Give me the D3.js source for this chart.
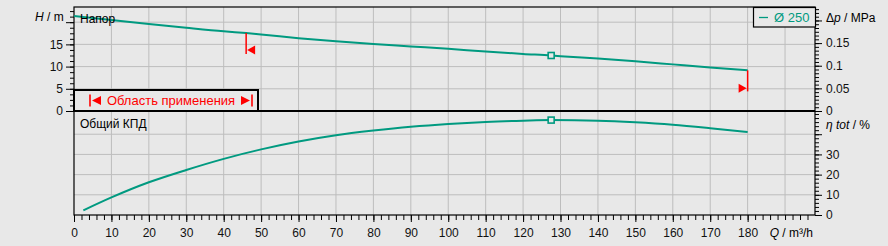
<!DOCTYPE html>
<html>
<head>
<meta charset="utf-8">
<script src="https://cdn.jsdelivr.net/npm/d3@7"></script>
<style>
  body { margin: 0; background: #e8e8e8; }
  svg { display: block; font-family: "Liberation Sans", Arial, sans-serif; }
  .grid line { stroke: #bdbdbd; stroke-width: 1; }
  .tick text { font-size: 12px; fill: #111; }
</style>
</head>
<body>
<div id="chart"></div>
<script>
// head curve (Q m3/h, H m)
let headQ = [0, 10, 20, 30, 40, 46, 50, 60, 70, 80, 90, 100, 110, 120, 127.5, 130, 140, 150, 160, 170, 180]
let headH = [21.4, 20.5, 19.6, 18.75, 17.95, 17.55, 17.25, 16.4, 15.7, 15.1, 14.55, 14.0, 13.4, 12.85, 12.5, 12.35, 11.8, 11.2, 10.5, 9.8, 9.15]
// total efficiency curve (Q m3/h, eta %)
let effQ = [2.5, 10, 20, 30, 40, 50, 60, 70, 80, 90, 100, 110, 120, 127.5, 140, 150, 160, 170, 180]
let effE = [2.3, 8.7, 16.2, 22.3, 27.8, 32.5, 36.4, 39.5, 41.8, 43.7, 45.1, 46.1, 46.7, 47.0, 46.7, 45.9, 44.7, 43.0, 41.1]
let dutyQ = 127.5
let rangeLimits = [46, 180]
let xTicks = [0, 10, 20, 30, 40, 50, 60, 70, 80, 90, 100, 110, 120, 130, 140, 150, 160, 170, 180]
let hTicks = [0, 5, 10, 15]
let pTicks = [0, 0.05, 0.1, 0.15]
let eTicks = [0, 10, 20, 30]
let legendLabel = "Ø 250"

let width = 888, height = 246
let teal = "#009a80"

let svg = d3.select("#chart").append("svg")
    .attr("width", width)
    .attr("height", height)

let x = d3.scaleLinear().domain([0, 198]).range([74, 815])
let yH = d3.scaleLinear().domain([0, 23.42]).range([111, 7])
let yP = d3.scaleLinear().domain([0, 23.42 * 0.00981]).range([111, 7])
let yE = d3.scaleLinear().domain([0, 51.5]).range([215, 111])

// grids
let grid = svg.append("g").attr("class", "grid")
grid.selectAll(".vg").data(d3.range(10, 198, 10)).enter().append("line")
    .attr("x1", d => x(d)).attr("x2", d => x(d))
    .attr("y1", 7).attr("y2", 215)
grid.selectAll(".hg").data([5, 10, 15, 20]).enter().append("line")
    .attr("x1", 74).attr("x2", 815)
    .attr("y1", d => yH(d)).attr("y2", d => yH(d))
grid.selectAll(".eg").data([10, 20, 30, 40]).enter().append("line")
    .attr("x1", 74).attr("x2", 815)
    .attr("y1", d => yE(d)).attr("y2", d => yE(d))

// axes
function noDomain(g){ g.select(".domain").remove() }

svg.append("g")
    .attr("transform", "translate(0,215)")
    .call(d3.axisBottom(x).tickValues(d3.range(0, 198, 2)).tickSize(5).tickFormat(""))
    .call(noDomain)
svg.append("g")
    .attr("transform", "translate(0,215)")
    .call(d3.axisBottom(x).tickValues(xTicks).tickSize(7).tickPadding(6).tickFormat(d3.format("d")))
    .call(noDomain)

svg.append("g")
    .attr("transform", "translate(74,0)")
    .call(d3.axisLeft(yH).tickValues(d3.range(0, 23.4, 1.25)).tickSize(4).tickFormat(""))
    .call(noDomain)
svg.append("g")
    .attr("transform", "translate(74,0)")
    .call(d3.axisLeft(yH).tickValues(hTicks.concat([20])).tickSize(8).tickPadding(3).tickFormat(d => d == 20 ? "" : d))
    .call(noDomain)

svg.append("g")
    .attr("transform", "translate(815,0)")
    .call(d3.axisRight(yP).tickValues(d3.range(0, 0.228, 0.05 / 6)).tickSize(4).tickFormat(""))
    .call(noDomain)
svg.append("g")
    .attr("transform", "translate(815,0)")
    .call(d3.axisRight(yP).tickValues(pTicks.concat([0.2])).tickSize(7).tickPadding(4).tickFormat(d => d == 0.2 ? "" : d3.format("~g")(d)))
    .call(noDomain)

svg.append("g")
    .attr("transform", "translate(815,0)")
    .call(d3.axisRight(yE).tickValues(d3.range(0, 51, 2)).tickSize(4).tickFormat(""))
    .call(noDomain)
svg.append("g")
    .attr("transform", "translate(815,0)")
    .call(d3.axisRight(yE).tickValues(eTicks.concat([40])).tickSize(7).tickPadding(4).tickFormat(d => d == 40 ? "" : d))
    .call(noDomain)

// frame
svg.append("rect").attr("x", 74).attr("y", 7).attr("width", 741).attr("height", 208)
    .attr("fill", "none").attr("stroke", "#000").attr("stroke-width", 1.2)
svg.append("line").attr("x1", 74).attr("x2", 815).attr("y1", 111).attr("y2", 111)
    .attr("stroke", "#000").attr("stroke-width", 2)

// axis titles
let t = svg.append("text").attr("x", 35).attr("y", 21).attr("font-size", 12)
t.append("tspan").attr("font-style", "italic").text("H")
t.append("tspan").text(" / m")
let tp = svg.append("text").attr("x", 826).attr("y", 22).attr("font-size", 12)
tp.append("tspan").text("Δ")
tp.append("tspan").attr("font-style", "italic").text("p")
tp.append("tspan").text(" / MPa")
let te = svg.append("text").attr("x", 826).attr("y", 128.5).attr("font-size", 12)
te.append("tspan").attr("font-style", "italic").text("η tot")
te.append("tspan").text(" / %")
let tq = svg.append("text").attr("x", 813).attr("y", 237).attr("font-size", 12).attr("text-anchor", "end")
tq.append("tspan").attr("font-style", "italic").text("Q")
tq.append("tspan").text(" / m³/h")

// curves
let headData = headQ.map((q, i) => ({q: q, v: headH[i]}))
let effData = effQ.map((q, i) => ({q: q, v: effE[i]}))

svg.append("path").datum(headData)
    .attr("d", d3.line().x(d => x(d.q)).y(d => yH(d.v)).curve(d3.curveMonotoneX))
    .attr("fill", "none").attr("stroke", teal).attr("stroke-width", 2)
svg.append("path").datum(effData)
    .attr("d", d3.line().x(d => x(d.q)).y(d => yE(d.v)).curve(d3.curveMonotoneX))
    .attr("fill", "none").attr("stroke", teal).attr("stroke-width", 2)

// duty point markers
let hDuty = headH[headQ.indexOf(dutyQ)]
let eDuty = effE[effQ.indexOf(dutyQ)]
svg.append("rect").attr("x", x(dutyQ) - 3).attr("y", yH(hDuty) - 3).attr("width", 6).attr("height", 6)
    .attr("fill", "#e8e8e8").attr("stroke", teal).attr("stroke-width", 1.6)
svg.append("rect").attr("x", x(dutyQ) - 3).attr("y", yE(eDuty) - 3).attr("width", 6).attr("height", 6)
    .attr("fill", "#e8e8e8").attr("stroke", teal).attr("stroke-width", 1.6)

// application range limits
let hLeft = headH[headQ.indexOf(rangeLimits[0])]
let hRight = headH[headQ.indexOf(rangeLimits[1])]
let xl = x(rangeLimits[0]), xr = x(rangeLimits[1])
svg.append("line").attr("x1", xl).attr("x2", xl).attr("y1", yH(hLeft)).attr("y2", yH(hLeft) + 21)
    .attr("stroke", "red").attr("stroke-width", 1.5)
svg.append("path").attr("d", `M${xl + 1},${yH(hLeft) + 17} L${xl + 9},${yH(hLeft) + 12.5} L${xl + 9},${yH(hLeft) + 21.5} Z`)
    .attr("fill", "red")
svg.append("line").attr("x1", xr).attr("x2", xr).attr("y1", yH(hRight)).attr("y2", yH(hRight) + 21)
    .attr("stroke", "red").attr("stroke-width", 1.5)
svg.append("path").attr("d", `M${xr - 1},${yH(hRight) + 18} L${xr - 9},${yH(hRight) + 13.5} L${xr - 9},${yH(hRight) + 22.5} Z`)
    .attr("fill", "red")

// legend
svg.append("rect").attr("x", 753.5).attr("y", 7.5).attr("width", 62).attr("height", 19.5)
    .attr("fill", "#e8e8e8").attr("stroke", "#000").attr("stroke-width", 1.2)
svg.append("line").attr("x1", 759).attr("x2", 768).attr("y1", 17.5).attr("y2", 17.5)
    .attr("stroke", teal).attr("stroke-width", 1.3)
svg.append("text").attr("x", 774).attr("y", 22).attr("font-size", 13).attr("fill", teal).text(legendLabel)

// application range box
svg.append("rect").attr("x", 74).attr("y", 90).attr("width", 184).attr("height", 21)
    .attr("fill", "#e8e8e8").attr("stroke", "#000").attr("stroke-width", 2)
let by = 100.5
svg.append("line").attr("x1", 90).attr("x2", 90).attr("y1", by - 6).attr("y2", by + 6).attr("stroke", "red").attr("stroke-width", 1.6)
svg.append("path").attr("d", `M92,${by} L101,${by - 4.5} L101,${by + 4.5} Z`).attr("fill", "red")
svg.append("line").attr("x1", 252).attr("x2", 252).attr("y1", by - 6).attr("y2", by + 6).attr("stroke", "red").attr("stroke-width", 1.6)
svg.append("path").attr("d", `M250,${by} L241,${by - 4.5} L241,${by + 4.5} Z`).attr("fill", "red")
svg.append("text").attr("x", 171).attr("y", by + 4.5).attr("text-anchor", "middle")
    .attr("font-size", 13).attr("fill", "red").text("Область применения")

// panel labels
svg.append("text").attr("x", 80).attr("y", 23).attr("font-size", 12).text("Напор")
svg.append("text").attr("x", 80).attr("y", 128).attr("font-size", 12).text("Общий КПД")
</script>
</body>
</html>
